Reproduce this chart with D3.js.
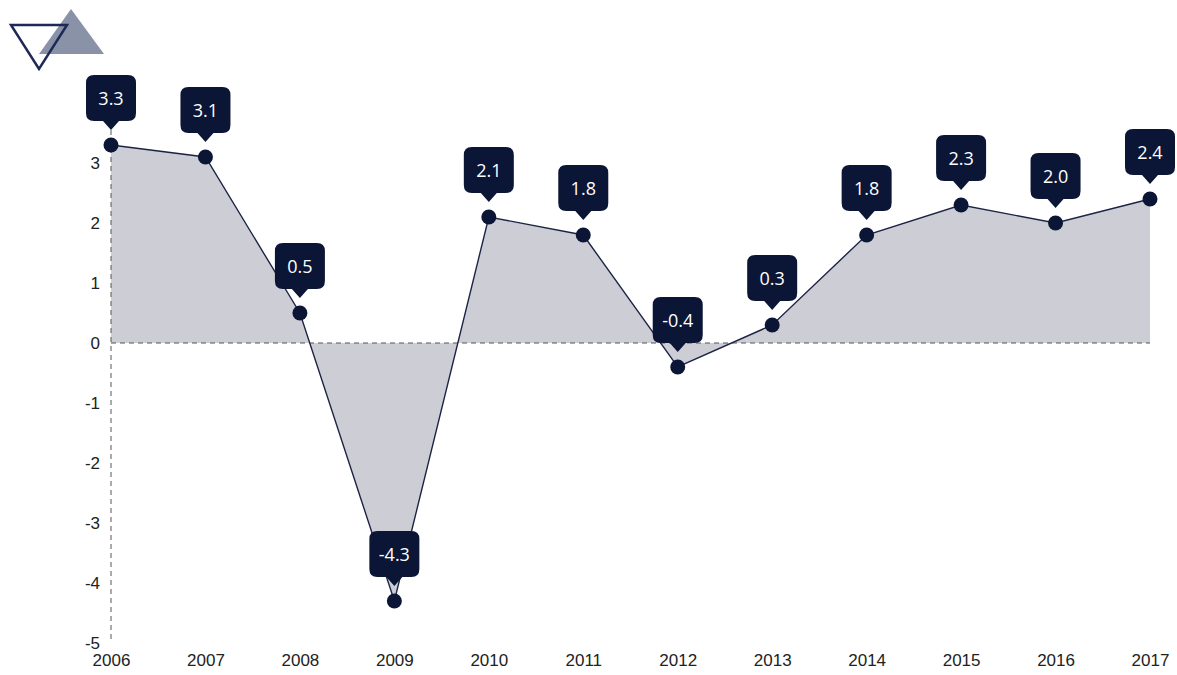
<!DOCTYPE html>
<html>
<head>
<meta charset="utf-8">
<style type="text/css">
	body { margin: 0; background: #fff; }
	svg { font-family: "Open Sans", "Noto Sans", sans-serif; }
	.area { fill: #cdced5; }
	.line { fill: none; stroke: #1b2444; stroke-width: 1.4; }
	.dot { fill: #0b1535; }
	.tip { fill: #0b1535; }
	.tip-text { fill: #fff; font-size: 18px; text-anchor: middle; }
	.axis text { fill: #222; font-size: 17px; }
	.axis path, .axis line { display: none; }
	.guide { stroke: #555; stroke-width: 1; stroke-dasharray: 5,4; fill: none; }
</style>
<script src="https://d3js.org/d3.v7.min.js"></script>
</head>
<body>
<script type="text/javascript">

	var years = [2006, 2007, 2008, 2009, 2010, 2011, 2012, 2013, 2014, 2015, 2016, 2017];
	var growth = [3.3, 3.1, 0.5, -4.3, 2.1, 1.8, -0.4, 0.3, 1.8, 2.3, 2.0, 2.4];
	var yTicks = [-5, -4, -3, -2, -1, 0, 1, 2, 3, 4];

	var chartW = 1177, chartH = 675;
	var plotLeft = 111, plotRight = 1150, plotTop = 103, plotBottom = 643;

	var data = years.map(function(yr, i) { return { year: yr, value: growth[i] }; });

	var x = d3.scalePoint().domain(years).range([plotLeft, plotRight]);
	var y = d3.scaleLinear().domain([-5, 4]).range([plotBottom, plotTop]);

	// plain hyphen for negatives, like the original
	var fmtInt = function(d) { return String(d); };
	var fmtVal = function(d) { return d.toFixed(1); };

	var svg = d3.select('body')
		.append('svg')
			.attr('width', chartW)
			.attr('height', chartH);

	// corner decoration
	svg.append('path')
		.attr('d', 'M71,9 L104,54 L39,54 Z')
		.attr('fill', '#8a92a8');
	svg.append('path')
		.attr('d', 'M11,25 L67,25 L39,69 Z')
		.attr('fill', 'none')
		.attr('stroke', '#1e2a55')
		.attr('stroke-width', 2.5);

	var area = d3.area()
		.x(function(d) { return x(d.year); })
		.y0(y(0))
		.y1(function(d) { return y(d.value); });

	var line = d3.line()
		.x(function(d) { return x(d.year); })
		.y(function(d) { return y(d.value); });

	svg.append('path')
		.attr('class', 'area')
		.attr('d', area(data));

	// dashed guides: y axis and zero line
	svg.append('line')
		.attr('class', 'guide')
		.attr('x1', plotLeft).attr('x2', plotLeft)
		.attr('y1', y(4)).attr('y2', y(-5));
	svg.append('line')
		.attr('class', 'guide')
		.attr('x1', plotLeft).attr('x2', plotRight)
		.attr('y1', y(0)).attr('y2', y(0));

	svg.append('path')
		.attr('class', 'line')
		.attr('d', line(data));

	svg.append('g')
		.attr('class', 'y axis')
		.attr('transform', 'translate(' + (plotLeft - 2) + ',0)')
		.call(d3.axisLeft(y).tickValues(yTicks).tickSize(0).tickPadding(9).tickFormat(fmtInt));

	svg.append('g')
		.attr('class', 'x axis')
		.attr('transform', 'translate(0,' + (plotBottom + 7) + ')')
		.call(d3.axisBottom(x).tickSize(0).tickPadding(4).tickFormat(fmtInt));

	svg.selectAll('circle.dot')
		.data(data)
		.enter()
		.append('circle')
			.attr('class', 'dot')
			.attr('cx', function(d) { return x(d.year); })
			.attr('cy', function(d) { return y(d.value); })
			.attr('r', 7.5);

	// callout bubbles
	var bw = 50, bh = 46, br = 8;
	function bubble(cx, cy) {
		var t = cy - 70, b = t + bh, l = cx - bw / 2, rr = cx + bw / 2;
		return 'M' + (l + br) + ',' + t +
			' L' + (rr - br) + ',' + t +
			' Q' + rr + ',' + t + ' ' + rr + ',' + (t + br) +
			' L' + rr + ',' + (b - br) +
			' Q' + rr + ',' + b + ' ' + (rr - br) + ',' + b +
			' L' + (cx + 8) + ',' + b +
			' L' + cx + ',' + (b + 9) +
			' L' + (cx - 8) + ',' + b +
			' L' + (l + br) + ',' + b +
			' Q' + l + ',' + b + ' ' + l + ',' + (b - br) +
			' L' + l + ',' + (t + br) +
			' Q' + l + ',' + t + ' ' + (l + br) + ',' + t + ' Z';
	}

	var tips = svg.selectAll('g.tipg')
		.data(data)
		.enter()
		.append('g')
			.attr('class', 'tipg');

	tips.append('path')
		.attr('class', 'tip')
		.attr('d', function(d) { return bubble(x(d.year), y(d.value)); });

	tips.append('text')
		.attr('class', 'tip-text')
		.attr('x', function(d) { return x(d.year); })
		.attr('y', function(d) { return y(d.value) - 40; })
		.text(function(d) { return fmtVal(d.value); });

</script>
</body>
</html>
